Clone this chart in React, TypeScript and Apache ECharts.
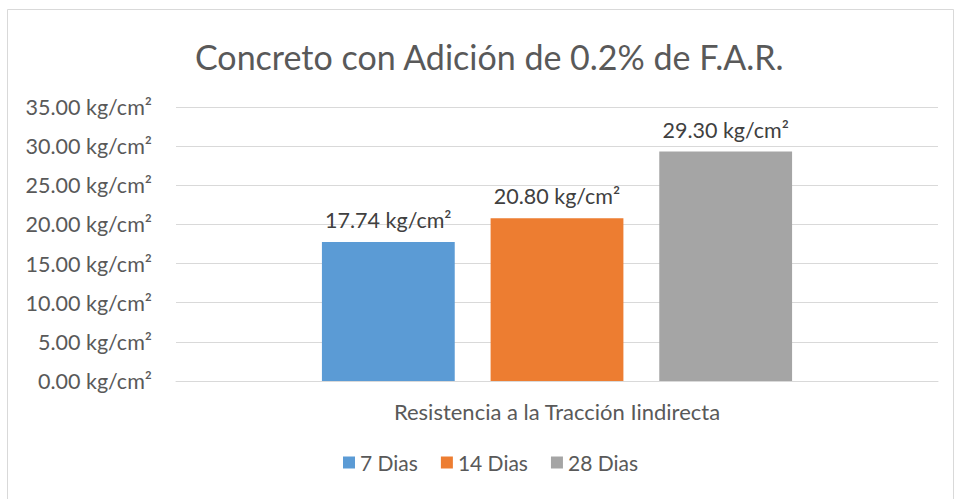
import React, { useEffect, useRef } from "react";
import * as echarts from "echarts";

const categories = ["Resistencia a la Tracción Iindirecta"];
const seriesNames = ["7 Dias", "14 Dias", "28 Dias"];
const seriesValues = [[17.74], [20.8], [29.3]];
const seriesColors = ["#5b9bd5", "#ed7d31", "#a5a5a5"];
const yTicks = { min: 0, max: 35, interval: 5 };
const unit = " kg/cm²";

export default function App() {
  const ref = useRef<HTMLDivElement>(null);
  useEffect(() => {
    if (!ref.current) return;
    const chart = echarts.init(ref.current, undefined, { renderer: "svg" });
    const font = "Lato";
    const textColor = "#595959";
    chart.setOption({
      animation: false,
      backgroundColor: "#ffffff",
      title: {
        text: "Concreto con Adición de 0.2% de F.A.R.",
        left: 190,
        top: 34,
        textStyle: { fontFamily: font, fontSize: 34, fontWeight: "normal", color: textColor },
      },
      graphic: [
        {
          type: "rect",
          shape: { x: 7.5, y: 9.5, width: 946, height: 520 },
          style: { fill: "none", stroke: "#d9d9d9", lineWidth: 1 },
          silent: true,
        },
      ],
      legend: {
        bottom: 21,
        left: 338,
        itemWidth: 12,
        itemHeight: 12,
        itemGap: 23,
        icon: "rect",
        textStyle: { fontFamily: font, fontSize: 21, color: textColor },
        data: seriesNames,
      },
      grid: { left: 176, right: 17, top: 107, bottom: 118 },
      xAxis: {
        type: "category",
        data: categories,
        axisLine: { lineStyle: { color: "#d9d9d9", width: 1 } },
        axisTick: { show: false },
        axisLabel: { fontFamily: font, fontSize: 22, color: textColor, margin: 19 },
      },
      yAxis: {
        type: "value",
        min: yTicks.min,
        max: yTicks.max,
        interval: yTicks.interval,
        axisLine: { show: false },
        axisTick: { show: false },
        splitLine: { lineStyle: { color: "#d9d9d9", width: 1 } },
        axisLabel: {
          fontFamily: font,
          fontSize: 21.5,
          color: textColor,
          margin: 24,
          formatter: (v: number) => v.toFixed(2) + unit,
        },
      },
      series: seriesNames.map((name, i) => ({
        name,
        type: "bar",
        data: seriesValues[i],
        barGap: "27%",
        barCategoryGap: "38.3%",
        itemStyle: { color: seriesColors[i] },
        label: {
          show: true,
          position: "top",
          distance: 11,
          fontFamily: font,
          fontSize: 21.5,
          color: "#404040",
          formatter: (p: any) => Number(p.value).toFixed(2) + unit,
        },
      })),
    });
    return () => chart.dispose();
  }, []);
  return (
    <div
      ref={ref}
      style={{ position: "absolute", left: 0, top: 0, width: 955, height: 499 }}
    />
  );
}
